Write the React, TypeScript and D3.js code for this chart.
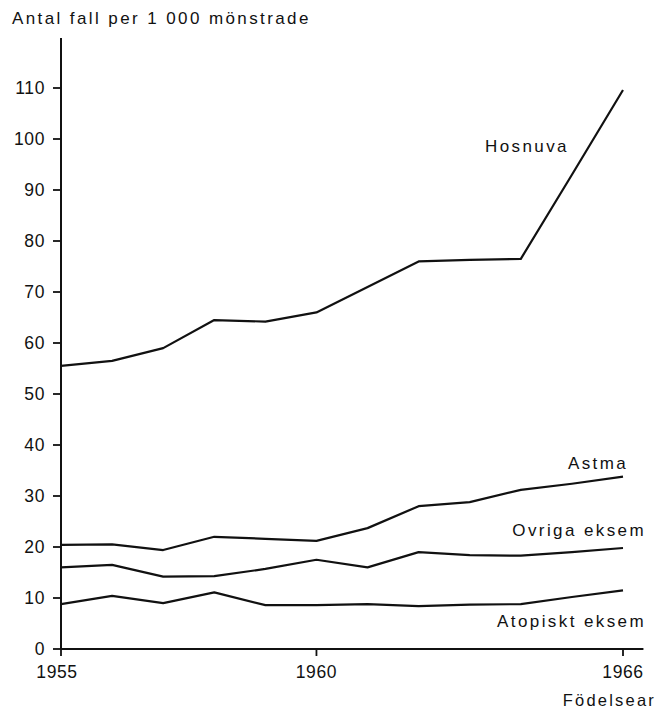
import React from "react";
import * as d3 from "d3";

// Birth years and cases per 1 000 conscripts
const years = [1955, 1956, 1957, 1958, 1959, 1960, 1961, 1962, 1963, 1964, 1965, 1966];
const hosnuva = [55.5, 56.5, 59, 64.5, 64.2, 66, 71, 76, 76.3, 76.5, 93, 109.6];
const astma = [20.4, 20.5, 19.4, 22, 21.6, 21.2, 23.7, 28, 28.8, 31.2, 32.4, 33.8];
const ovrigaEksem = [16, 16.5, 14.2, 14.3, 15.7, 17.5, 16, 19, 18.4, 18.3, 19, 19.8];
const atopisktEksem = [8.8, 10.4, 9, 11.1, 8.6, 8.6, 8.8, 8.4, 8.7, 8.8, 10.2, 11.5];

const yTicks = [0, 10, 20, 30, 40, 50, 60, 70, 80, 90, 100, 110];
const xTicks = [1955, 1960, 1966];

const series = [
  { name: "Hosnuva", values: hosnuva, labelYear: 1963.3, labelValue: 97.4, anchor: "start" },
  { name: "Astma", values: astma, labelYear: 1966.1, labelValue: 35.2, anchor: "end" },
  { name: "Ovriga eksem", values: ovrigaEksem, labelYear: 1966.45, labelValue: 22.2, anchor: "end" },
  { name: "Atopiskt eksem", values: atopisktEksem, labelYear: 1966.45, labelValue: 4.3, anchor: "end" },
];

const W = 655;
const H = 711;
const font = "'Liberation Sans', Arial, sans-serif";

export default function App() {
  const x = d3.scaleLinear().domain([1955, 1966]).range([61, 623]);
  const y = d3.scaleLinear().domain([0, 110]).range([649, 88]);

  const line = d3
    .line<number>()
    .x((_d, i) => x(years[i]))
    .y((d) => y(d));

  return (
    <svg
      width={W}
      height={H}
      style={{ position: "absolute", left: 0, top: 0, background: "#fff" }}
      fontFamily={font}
    >
      <text x={12} y={24} fontSize={17} letterSpacing={2.4} fill="#111">
        Antal fall per 1 000 mönstrade
      </text>

      {/* Y axis */}
      <line x1={x(1955)} x2={x(1955)} y1={y(0)} y2={y(119.8)} stroke="#111" strokeWidth={2} />
      {yTicks.map((t) => (
        <g key={t}>
          <line x1={x(1955) - 8} x2={x(1955)} y1={y(t)} y2={y(t)} stroke="#111" strokeWidth={1.8} />
          <text
            x={x(1955) - 16}
            y={y(t)}
            textAnchor="end"
            dominantBaseline="central"
            fontSize={17.5}
            letterSpacing={0.6}
            fill="#111"
          >
            {t}
          </text>
        </g>
      ))}

      {/* X axis */}
      <line x1={x(1955)} x2={x(1966.4)} y1={y(0)} y2={y(0)} stroke="#111" strokeWidth={2} />
      {xTicks.map((t) => (
        <g key={t}>
          <line x1={x(t)} x2={x(t)} y1={y(0)} y2={y(0) + 7} stroke="#111" strokeWidth={1.8} />
          <text
            x={x(t) - (t === 1955 ? 4 : 0)}
            y={y(0) + 29}
            textAnchor="middle"
            fontSize={17.5}
            letterSpacing={0.6}
            fill="#111"
          >
            {t}
          </text>
        </g>
      ))}
      <text x={W + 1} y={y(0) + 57} textAnchor="end" fontSize={16.5} letterSpacing={2.2} fill="#111">
        Födelsear
      </text>

      {/* Series */}
      {series.map((s) => (
        <g key={s.name}>
          <path d={line(s.values) ?? ""} fill="none" stroke="#111" strokeWidth={2.2} strokeLinejoin="round" />
          <text
            x={x(s.labelYear)}
            y={y(s.labelValue)}
            textAnchor={s.anchor as "start" | "end"}
            fontSize={17}
            letterSpacing={2.4}
            fill="#111"
          >
            {s.name}
          </text>
        </g>
      ))}
    </svg>
  );
}
